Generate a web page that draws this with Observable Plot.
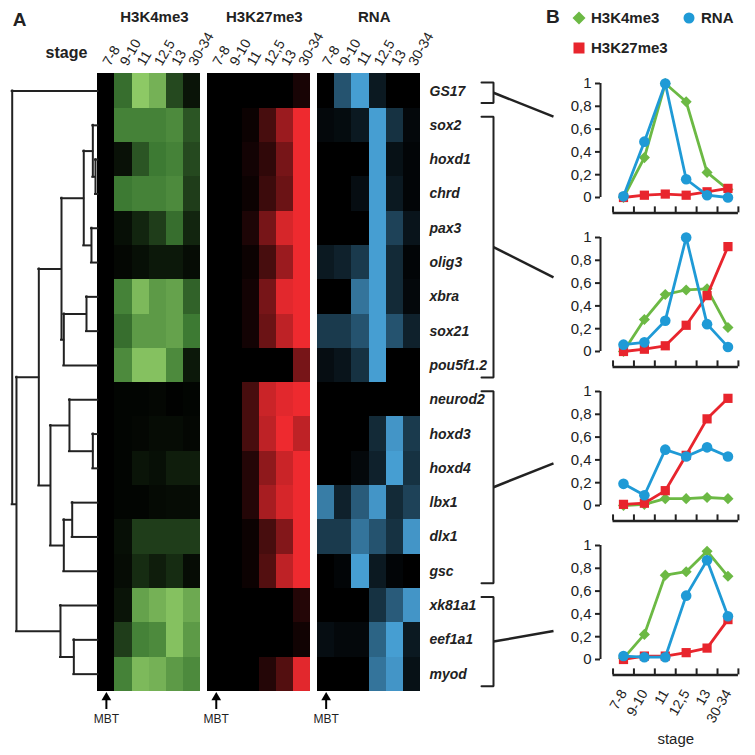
<!DOCTYPE html>
<html><head><meta charset="utf-8">
<script src="https://cdn.jsdelivr.net/npm/d3@7"></script>
<script src="https://cdn.jsdelivr.net/npm/@observablehq/plot@0.6"></script>
<style>
body{margin:0;background:#fff;}
#root{position:relative;width:755px;height:755px;font-family:"Liberation Sans",Arial,sans-serif;overflow:hidden;background:#fff;}
#root > *{position:absolute;}
#legend{left:572px;top:9px;font:bold 15px "Liberation Sans",Arial,sans-serif;display:grid;grid-template-columns:110px auto;row-gap:13px;color:#222;}
#legend span{display:flex;align-items:center;}
#legend svg{margin-right:5px;}
#labB{left:546px;top:6px;font:bold 19px "Liberation Sans",Arial,sans-serif;color:#222;}
</style></head><body><div id="root"></div>
<script>
// ---------- data ----------
const stages = ["7-8","9-10","11","12,5","13","30-34"];
const markNames = ["H3K4me3","H3K27me3","RNA"];
const genes = ["GS17","sox2","hoxd1","chrd","pax3","olig3","xbra","sox21","pou5f1.2","neurod2","hoxd3","hoxd4","lbx1","dlx1","gsc","xk81a1","eef1a1","myod"];
const h3k4 = [
 [0,0.45,1.0,0.85,0.3,0.08],
 [0,0.55,0.55,0.55,0.6,0.35],
 [0,0.07,0.35,0.5,0.55,0.3],
 [0,0.5,0.55,0.55,0.6,0.25],
 [0,0.06,0.15,0.25,0.45,0.15],
 [0,0.03,0.06,0.1,0.1,0.05],
 [0,0.55,0.9,0.7,0.75,0.4],
 [0,0.45,0.7,0.7,0.75,0.5],
 [0,0.6,0.95,0.95,0.6,0.1],
 [0,0.02,0.02,0.03,0.01,0.02],
 [0,0.02,0.03,0.05,0.05,0.03],
 [0,0.02,0.08,0.06,0.12,0.12],
 [0,0.02,0.02,0.04,0.05,0.05],
 [0,0.06,0.25,0.25,0.25,0.25],
 [0,0.05,0.18,0.12,0.18,0.05],
 [0,0.08,0.75,0.85,0.95,0.8],
 [0,0.25,0.55,0.6,0.95,0.7],
 [0,0.55,0.9,0.85,0.7,0.6]
];
const h3k27 = [
 [0,0,0,0,0,0.1],
 [0,0,0.05,0.3,0.65,1],
 [0,0,0.08,0.2,0.5,1],
 [0,0,0.05,0.25,0.45,1],
 [0,0,0.12,0.5,0.9,1],
 [0,0,0.05,0.3,0.65,1],
 [0,0,0.08,0.5,0.95,1],
 [0,0,0.08,0.45,0.8,1],
 [0,0,0,0,0,0.5],
 [0,0,0.3,0.85,0.95,1],
 [0,0,0.3,0.8,1,0.8],
 [0,0,0.15,0.6,0.85,1],
 [0,0,0.15,0.7,0.9,1],
 [0,0,0.05,0.3,0.55,1],
 [0,0,0.05,0.35,0.8,1],
 [0,0,0,0,0,0.15],
 [0,0,0,0,0,0.07],
 [0,0,0,0.15,0.35,0.95]
];
const rna = [
 [0,0.5,0.95,0.15,0,0],
 [0.05,0.07,0.15,0.95,0.3,0.05],
 [0,0,0,0.95,0.1,0.03],
 [0,0,0.08,0.95,0.15,0.03],
 [0,0,0,0.95,0.4,0.12],
 [0.15,0.2,0.35,0.95,0.25,0.03],
 [0,0,0.7,0.95,0.25,0.05],
 [0.35,0.35,0.5,0.95,0.5,0.2],
 [0.08,0.12,0.3,0.95,0,0],
 [0,0,0,0,0,0],
 [0,0,0,0.25,0.9,0.35],
 [0,0,0.05,0.2,0.95,0.3],
 [0.75,0.2,0.55,0.9,0.25,0.4],
 [0.35,0.35,0.7,0.5,0.3,0.9],
 [0,0.03,0.95,0.15,0.03,0],
 [0,0,0,0.3,0.55,0.9],
 [0.08,0.05,0.05,0.6,0.95,0.15],
 [0,0,0,0.7,0.9,0.1]
];
// hierarchical clustering merges (child a, child b, merge height 0..1)
const dendro = [
 {id:"n1", a:"hoxd1", b:"chrd", h:0.027},
 {id:"n2", a:"sox2", b:"n1", h:0.058},
 {id:"n3", a:"pax3", b:"olig3", h:0.074},
 {id:"n4", a:"n2", b:"n3", h:0.164},
 {id:"n5", a:"xbra", b:"sox21", h:0.132},
 {id:"nF", a:"n5", b:"pou5f1.2", h:0.397},
 {id:"nD", a:"n4", b:"nF", h:0.424},
 {id:"nH", a:"hoxd3", b:"hoxd4", h:0.058},
 {id:"nG", a:"neurod2", b:"nH", h:0.331},
 {id:"nJ", a:"lbx1", b:"dlx1", h:0.299},
 {id:"nI", a:"nJ", b:"gsc", h:0.397},
 {id:"nE", a:"nG", b:"nI", h:0.553},
 {id:"nB", a:"nD", b:"nE", h:0.689},
 {id:"nK", a:"eef1a1", b:"myod", h:0.280},
 {id:"nC", a:"xk81a1", b:"nK", h:0.436},
 {id:"nA", a:"nB", b:"nC", h:0.95},
 {id:"root", a:"GS17", b:"nA", h:1.0}
];
const groups = [["GS17","GS17"],["sox2","pou5f1.2"],["neurod2","gsc"],["xk81a1","myod"]];
// cluster mean profiles (panel B)
const profH3K4 = [
 [0,0.35,1.0,0.84,0.22,0.07],
 [0,0.28,0.5,0.54,0.55,0.21],
 [0,0.01,0.06,0.06,0.07,0.06],
 [0.01,0.22,0.74,0.77,0.95,0.73]
];
const profH3K27 = [
 [0,0.02,0.03,0.02,0.05,0.08],
 [0,0.02,0.05,0.23,0.49,0.92],
 [0.01,0.02,0.13,0.44,0.76,0.94],
 [0,0.03,0.03,0.06,0.1,0.35]
];
const profRNA = [
 [0.01,0.49,1.0,0.16,0.02,0.0],
 [0.06,0.08,0.27,1.0,0.24,0.04],
 [0.19,0.09,0.49,0.43,0.51,0.43],
 [0.03,0.02,0.02,0.56,0.87,0.38]
];
const yTicks = [0,0.2,0.4,0.6,0.8,1];
const linkAt = [0.71,0.65,0.37,0.25];

// ---------- layout ----------
const FONT = "Liberation Sans, Arial, sans-serif";
const INK = "#222";
const W_A = 560, H_A = 755;
const colW = 17.17, rowH = 34.3, left0 = 97.3, top0 = 73.4;
const panelStep = 6.4;
const dendroW = 85.6 / colW;
const ramps = [
  d3.scaleLinear().domain([0,0.5,1]).range(["#000000","#3d7a33","#8dc965"]).interpolate(d3.interpolateRgb),
  d3.scaleLinear().domain([0,1]).range(["#000000","#ee2a2f"]).interpolate(d3.interpolateRgb),
  d3.scaleLinear().domain([0,1]).range(["#000000","#4aa6dd"]).interpolate(d3.interpolateRgb)
];
const lineColors = {H3K4me3:"#6cb944", H3K27me3:"#e8252d", RNA:"#1f9ad6"};
const chartTop = i => 83 + 154*i;   // pixel y of value 1
const chartUnit = 114;               // pixels for 0..1
const pxX = px => (px - left0)/colW;
const pxY = py => (py - top0)/rowH;

const root = document.getElementById("root");

// heatmap cells
const heat = [h3k4, h3k27, rna];
const cells = [];
heat.forEach((m,p)=>genes.forEach((g,gi)=>stages.forEach((s,si)=>{
  cells.push({p, gi, si, color: ramps[p](m[gi][si])});
})));
const stageLabels = [];
markNames.forEach((m,p)=>stages.forEach((s,si)=>stageLabels.push({p,si,s})));

// dendrogram geometry
const pos = new Map(genes.map((g,i)=>[g,{y:i+0.5,h:0}]));
const hSegs = [], vSegs = [];
for (const n of dendro) {
  const a = pos.get(n.a), b = pos.get(n.b);
  pos.set(n.id, {y:(a.y+b.y)/2, h:n.h});
  vSegs.push({h:n.h, y1:a.y, y2:b.y});
  hSegs.push({y:a.y, h1:n.h, h2:a.h}, {y:b.y, h1:n.h, h2:b.h});
}

// brackets
const bx1 = pxX(481), bx2 = pxX(493), linkEnd = pxX(553);
const brackets = groups.map(([a,b],k)=>{
  const i0 = genes.indexOf(a), i1 = genes.indexOf(b);
  return {k, top:i0+0.25, bot:i1+0.85};
});
const bracketPts = brackets.flatMap(b=>[
  {k:b.k,x:bx1,y:b.top},{k:b.k,x:bx2,y:b.top},{k:b.k,x:bx2,y:b.bot},{k:b.k,x:bx1,y:b.bot}]);
const links = brackets.map((b,k)=>({x1:bx2, y1:(b.top+b.bot)/2, x2:linkEnd, y2:pxY(chartTop(k)+(1-linkAt[k])*chartUnit)}));

const mbt = markNames.map((m,p)=>({x:p*panelStep+0.5}));

const plotA = Plot.plot({
  width: W_A, height: H_A, margin: 0,
  x: {domain:[-left0/colW, (W_A-left0)/colW], range:[0,W_A], axis:null},
  y: {domain:[-top0/rowH, (H_A-top0)/rowH], range:[0,H_A], axis:null},
  color: {type:"identity"},
  style: {fontFamily: FONT, background:"transparent", color: INK, overflow:"visible"},
  marks: [
    Plot.rect(cells, {x1:d=>d.p*panelStep+d.si, x2:d=>d.p*panelStep+d.si+1, y1:d=>d.gi, y2:d=>d.gi+1, fill:"color", shapeRendering:"crispEdges"}),
    Plot.ruleY(hSegs, {y:"y", x1:d=>-d.h1*dendroW, x2:d=>-d.h2*dendroW, stroke:INK, strokeWidth:2, strokeLinecap:"square"}),
    Plot.ruleX(vSegs, {x:d=>-d.h*dendroW, y1:"y1", y2:"y2", stroke:INK, strokeWidth:2, strokeLinecap:"square"}),
    Plot.text(stageLabels, {x:d=>d.p*panelStep+d.si+0.5, y:pxY(64), text:"s", rotate:-60, textAnchor:"start", fontSize:14, fill:INK}),
    Plot.text(markNames, {x:(d,i)=>i*panelStep+3.3, y:pxY(17), text:d=>d, fontSize:15, fontWeight:"bold", fill:INK}),
    Plot.text(["stage"], {x:pxX(66), y:pxY(52), text:d=>d, fontSize:16, fontWeight:"bold", fill:INK}),
    Plot.text(["A"], {x:pxX(19), y:pxY(19), text:d=>d, fontSize:19, fontWeight:"bold", fill:INK}),
    Plot.text(genes, {x:pxX(429), y:(d,i)=>i+0.5, text:d=>d, textAnchor:"start", fontSize:14, fontWeight:"bold", fontStyle:"italic", fill:INK}),
    Plot.line(bracketPts, {x:"x", y:"y", z:"k", stroke:INK, strokeWidth:2, strokeLinejoin:"miter"}),
    Plot.link(links, {x1:"x1", y1:"y1", x2:"x2", y2:"y2", stroke:INK, strokeWidth:2.5}),
    Plot.ruleX(mbt, {x:"x", y1:pxY(700), y2:pxY(709), stroke:"#000", strokeWidth:2}),
    Plot.dot(mbt, {x:"x", y:pxY(697), symbol:"triangle", r:3.6, fill:"#000"}),
    Plot.text(mbt, {x:"x", y:pxY(719), text:()=>"MBT", fontSize:12, fill:INK})
  ]
});
plotA.style.left = "0px"; plotA.style.top = "0px";
root.appendChild(plotA);

// ---------- panel B charts ----------
const fmt = d => d===0 ? "0" : d===1 ? "1" : d.toFixed(1).replace(".", ",");
const series = [
  {name:"H3K4me3", prof:profH3K4, symbol:"diamond2", r:5},
  {name:"H3K27me3", prof:profH3K27, symbol:"square", r:5.2},
  {name:"RNA", prof:profRNA, symbol:"circle", r:5.3}
];
const yMin = -0.135;
for (let i=0;i<4;i++){
  const last = i===3;
  const mt = 10, mb = last ? 90 : 8;
  const pts = series.flatMap(s=>s.prof[i].map((v,k)=>({name:s.name, k, v})));
  const marks = [
    Plot.ruleX([-1.1], {y1:0, y2:1, stroke:INK, strokeWidth:2}),
    Plot.axisY({ticks:yTicks, tickFormat:fmt, tickSize:5, tickPadding:4, fontSize:15, strokeWidth:2, stroke:INK, fill:INK, label:null}),
    Plot.ruleY([yMin], {x1:-0.5, x2:5.5, stroke:INK, strokeWidth:2.5}),
    Plot.ruleX(d3.range(7).map(k=>k-0.5), {y1:yMin, y2:yMin+6/chartUnit, stroke:INK, strokeWidth:2})
  ];
  for (const s of series){
    const d = pts.filter(p=>p.name===s.name);
    marks.push(Plot.line(d, {x:"k", y:"v", stroke:lineColors[s.name], strokeWidth:2.8}));
    marks.push(Plot.dot(d, {x:"k", y:"v", symbol:s.symbol, r:s.r, fill:lineColors[s.name], stroke:"none"}));
  }
  if (last) {
    marks.push(Plot.text(stages, {x:(d,k)=>k, y:yMin, dy:16, text:d=>d, rotate:-60, textAnchor:"end", fontSize:14, fill:INK}));
    marks.push(Plot.text(["stage"], {x:2.5, y:yMin, dy:64, text:d=>d, fontSize:15, fill:INK}));
  }
  const plotH = mt + (1-yMin)*chartUnit + mb;
  const p = Plot.plot({
    width: 215, height: plotH, marginTop: mt, marginBottom: mb, marginLeft: 60, marginRight: 15,
    x: {domain:[-1.1, 5.6], axis:null},
    y: {domain:[yMin, 1]},
    style: {fontFamily: FONT, background:"transparent", color: INK, overflow:"visible"},
    marks
  });
  p.style.left = "540px"; p.style.top = (chartTop(i)-mt) + "px";
  root.appendChild(p);
}

// legend
const legend = document.createElement("div");
legend.id = "legend";
const shapes = {
  H3K4me3: '<svg width="14" height="14"><path d="M7 0.5L13.5 7L7 13.5L0.5 7Z" fill="'+lineColors.H3K4me3+'"/></svg>',
  RNA: '<svg width="14" height="14"><circle cx="7" cy="7" r="5.5" fill="'+lineColors.RNA+'"/></svg>',
  H3K27me3: '<svg width="14" height="14"><rect x="1.5" y="1.5" width="11" height="11" fill="'+lineColors.H3K27me3+'"/></svg>'
};
for (const n of ["H3K4me3","RNA","H3K27me3"]) {
  const s = document.createElement("span");
  s.innerHTML = shapes[n] + n;
  legend.appendChild(s);
}
root.appendChild(legend);
const lb = document.createElement("div");
lb.id = "labB"; lb.textContent = "B";
root.appendChild(lb);
</script></body></html>
